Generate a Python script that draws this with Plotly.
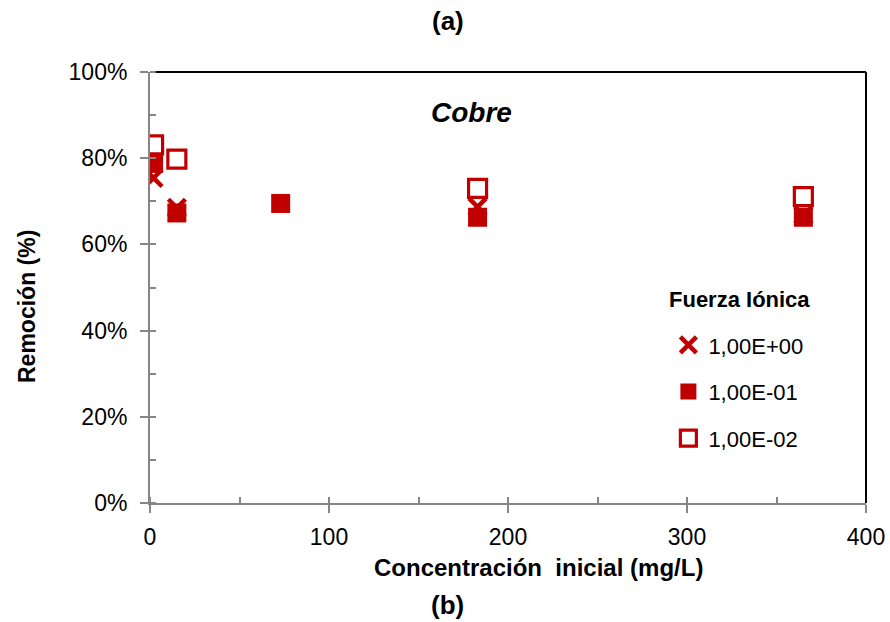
import plotly.graph_objects as go

# Initial concentration (mg/L) and removal (%) per ionic strength
concentracion = [2, 15, 73, 183, 365]
remocion_1e0 = [75.4, 68.5, None, 68.7, 66.8]
remocion_1e_1 = [78.8, 67.3, 69.5, 66.3, 66.3]
remocion_1e_2 = [83.1, 79.8, None, 73.0, 71.1]
series_names = ["1,00E+00", "1,00E-01", "1,00E-02"]

RED = "#C00000"
GREY = "#868686"
FONT = "Liberation Sans, Arial, sans-serif"

W, H = 890, 622
L, R, T, B = 150, 24, 72, 119

fig = go.Figure()
fig.add_trace(go.Scatter(
    x=concentracion, y=remocion_1e0, mode="markers", name=series_names[0],
    legendgroup="a",
    marker=dict(symbol="x-thin", size=17, line=dict(color=RED, width=4.5), color=RED),
))
fig.add_trace(go.Scatter(
    x=concentracion, y=remocion_1e_1, mode="markers", name=series_names[1],
    legendgroup="b",
    marker=dict(symbol="square", size=19, color=RED, line=dict(width=0)),
))
fig.add_trace(go.Scatter(
    x=concentracion, y=remocion_1e_2, mode="markers", name=series_names[2],
    legendgroup="c",
    marker=dict(symbol="square-open", size=18, color=RED, line=dict(color=RED, width=3.2)),
))
# invisible trace carrying the inner halves of the crossing ticks
fig.add_trace(go.Scatter(x=[None], y=[None], xaxis="x2", yaxis="y2",
                         showlegend=False, hoverinfo="skip"))

fig.update_layout(
    width=W, height=H,
    margin=dict(l=L, r=R, t=T, b=B, autoexpand=False),
    paper_bgcolor="white", plot_bgcolor="white",
    font=dict(family=FONT, size=23, color="black"),
    showlegend=True,
    legend=dict(
        x=0.724, y=0.415, xanchor="left", yanchor="top",
        font=dict(size=22),
        tracegroupgap=15,
        bgcolor="rgba(0,0,0,0)",
    ),
    xaxis=dict(
        range=[0, 400], dtick=100, tick0=0, automargin=False,
        showgrid=False, zeroline=False,
        showline=True, linecolor=GREY, linewidth=2,
        ticks="outside", ticklen=8, tickwidth=2, tickcolor=GREY,
        ticklabelstandoff=4,
        minor=dict(dtick=50, ticks="inside", ticklen=6, tickwidth=1.5, tickcolor=GREY),
        tickfont=dict(size=23),
    ),
    yaxis=dict(
        range=[0, 100], dtick=20, tick0=0, ticksuffix="%", automargin=False,
        showgrid=False, zeroline=False,
        showline=True, linecolor=GREY, linewidth=2,
        ticks="outside", ticklen=8, tickwidth=2, tickcolor=GREY,
        ticklabelstandoff=8,
        minor=dict(dtick=10, ticks="inside", ticklen=6, tickwidth=1.5, tickcolor=GREY),
        tickfont=dict(size=23),
    ),
    xaxis2=dict(
        overlaying="x", matches="x", range=[0, 400], dtick=100, tick0=0,
        showgrid=False, zeroline=False, showline=False, showticklabels=False,
        ticks="inside", ticklen=5, tickwidth=2, tickcolor=GREY, anchor="y2",
    ),
    yaxis2=dict(
        overlaying="y", matches="y", range=[0, 100], dtick=20, tick0=0,
        showgrid=False, zeroline=False, showline=False, showticklabels=False,
        ticks="inside", ticklen=5, tickwidth=2, tickcolor=GREY, anchor="x2",
    ),
)

# black frame on top and right
fig.add_shape(type="line", xref="paper", yref="paper", x0=0.008, x1=1, y0=1, y1=1,
              line=dict(color="black", width=2))
fig.add_shape(type="line", xref="paper", yref="paper", x0=1, x1=1, y0=0, y1=1,
              line=dict(color="black", width=2))

pw = W - L - R
ph = H - T - B


def px_x(p):
    return (p - L) / pw


def px_y(p):
    return (H - B - p) / ph


fig.add_annotation(text="<b>Fuerza Iónica</b>", x=px_x(667), y=px_y(299), xref="paper", yref="paper",
                   showarrow=False, font=dict(size=22), xanchor="left", yanchor="middle")
fig.add_annotation(text="<b><i>Cobre</i></b>", x=px_x(471), y=px_y(112), xref="paper", yref="paper",
                   showarrow=False, font=dict(size=28), xanchor="center", yanchor="middle")
fig.add_annotation(text="<b>Concentración  inicial (mg/L)</b>", x=px_x(538), y=px_y(567),
                   xref="paper", yref="paper", showarrow=False, font=dict(size=24),
                   xanchor="center", yanchor="middle")
fig.add_annotation(text="<b>Remoción (%)</b>", x=px_x(27), y=px_y(307),
                   xref="paper", yref="paper", showarrow=False, font=dict(size=23),
                   textangle=-90, xanchor="center", yanchor="middle")
fig.add_annotation(text="<b>(a)</b>", x=px_x(448), y=px_y(21), xref="paper", yref="paper",
                   showarrow=False, font=dict(size=26), xanchor="center", yanchor="middle")
fig.add_annotation(text="<b>(b)</b>", x=px_x(447), y=px_y(605), xref="paper", yref="paper",
                   showarrow=False, font=dict(size=26), xanchor="center", yanchor="middle")

fig.write_html("out.html")
